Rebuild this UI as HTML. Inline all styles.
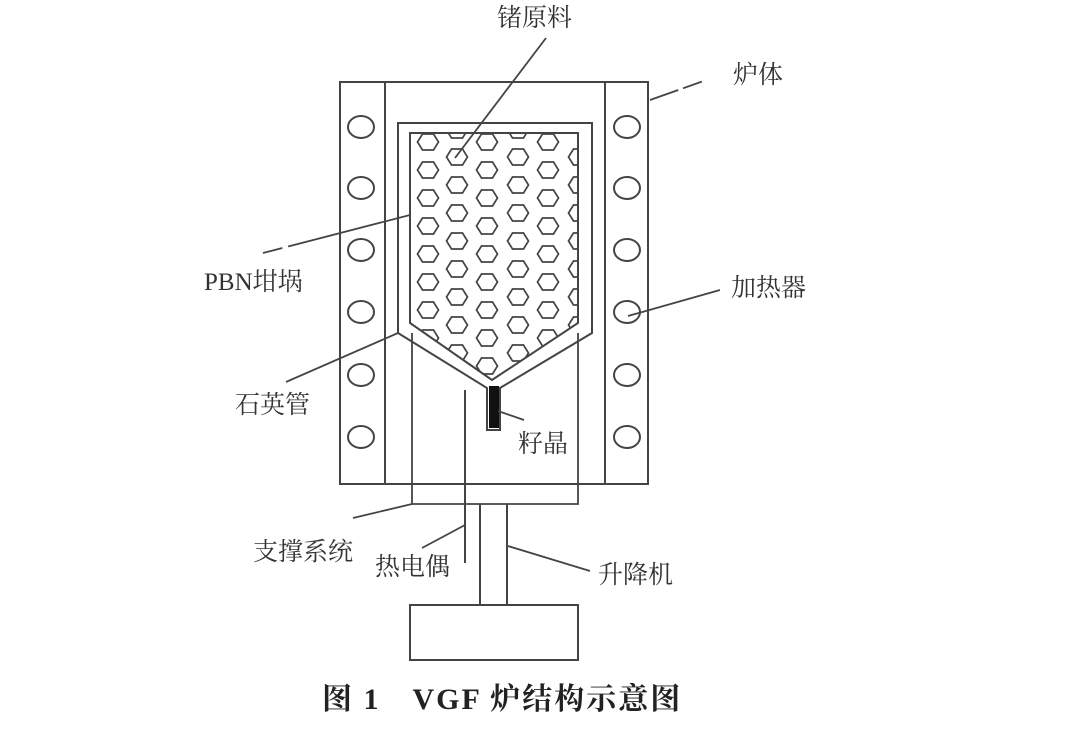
<!DOCTYPE html>
<html><head><meta charset="utf-8"><style>
html,body{margin:0;padding:0;background:#fff;}
text{font-family:"Liberation Serif","Noto Serif CJK SC","Noto Sans CJK SC",serif;fill:#333;}
</style></head><body>
<svg width="1080" height="745" viewBox="0 0 1080 745" xmlns="http://www.w3.org/2000/svg">
<defs>
<path id="h" d="M-10.5,0 L-5.5,-8 L5.5,-8 L10.5,0 L5.5,8 L-5.5,8 Z" fill="none" stroke="#444" stroke-width="1.7"/>
<clipPath id="cc"><polygon points="410,133 578,133 578,323 492,380 410,323"/></clipPath>
</defs>
<g fill="none" stroke="#444" stroke-width="2">
<rect x="340" y="82" width="308" height="402"/>
<line x1="385" y1="82" x2="385" y2="484"/>
<line x1="605" y1="82" x2="605" y2="484"/>
<polyline points="398,333 398,123 592,123 592,333 500,388 500,430 487,430 487,388 398,333"/>
<polygon points="410,133 578,133 578,323 492,380 410,323"/>
<polyline points="412,333 412,504 578,504 578,333" stroke-width="1.8"/>
<line x1="480" y1="504" x2="480" y2="605"/>
<line x1="507" y1="504" x2="507" y2="605"/>
<rect x="410" y="605" width="168" height="55"/>
<line x1="465" y1="390" x2="465" y2="563"/>
</g>
<rect x="489" y="386" width="10" height="42" fill="#111"/>
<g fill="none" stroke="#444" stroke-width="2">
<ellipse cx="361" cy="127" rx="13" ry="11"/><ellipse cx="361" cy="188" rx="13" ry="11"/><ellipse cx="361" cy="250" rx="13" ry="11"/><ellipse cx="361" cy="312" rx="13" ry="11"/><ellipse cx="361" cy="375" rx="13" ry="11"/><ellipse cx="361" cy="437" rx="13" ry="11"/>
<ellipse cx="627" cy="127" rx="13" ry="11"/><ellipse cx="627" cy="188" rx="13" ry="11"/><ellipse cx="627" cy="250" rx="13" ry="11"/><ellipse cx="627" cy="312" rx="13" ry="11"/><ellipse cx="627" cy="375" rx="13" ry="11"/><ellipse cx="627" cy="437" rx="13" ry="11"/>
</g>
<g clip-path="url(#cc)">
<use href="#h" x="428" y="142"/><use href="#h" x="428" y="170"/><use href="#h" x="428" y="198"/><use href="#h" x="428" y="226"/><use href="#h" x="428" y="254"/><use href="#h" x="428" y="282"/><use href="#h" x="428" y="310"/><use href="#h" x="428" y="338"/>
<use href="#h" x="487" y="142"/><use href="#h" x="487" y="170"/><use href="#h" x="487" y="198"/><use href="#h" x="487" y="226"/><use href="#h" x="487" y="254"/><use href="#h" x="487" y="282"/><use href="#h" x="487" y="310"/><use href="#h" x="487" y="338"/><use href="#h" x="487" y="366"/>
<use href="#h" x="548" y="142"/><use href="#h" x="548" y="170"/><use href="#h" x="548" y="198"/><use href="#h" x="548" y="226"/><use href="#h" x="548" y="254"/><use href="#h" x="548" y="282"/><use href="#h" x="548" y="310"/><use href="#h" x="548" y="338"/>
<use href="#h" x="457" y="130"/><use href="#h" x="457" y="157"/><use href="#h" x="457" y="185"/><use href="#h" x="457" y="213"/><use href="#h" x="457" y="241"/><use href="#h" x="457" y="269"/><use href="#h" x="457" y="297"/><use href="#h" x="457" y="325"/><use href="#h" x="457" y="353"/>
<use href="#h" x="518" y="130"/><use href="#h" x="518" y="157"/><use href="#h" x="518" y="185"/><use href="#h" x="518" y="213"/><use href="#h" x="518" y="241"/><use href="#h" x="518" y="269"/><use href="#h" x="518" y="297"/><use href="#h" x="518" y="325"/><use href="#h" x="518" y="353"/>
<use href="#h" x="579" y="157"/><use href="#h" x="579" y="185"/><use href="#h" x="579" y="213"/><use href="#h" x="579" y="241"/><use href="#h" x="579" y="269"/><use href="#h" x="579" y="297"/><use href="#h" x="579" y="325"/>
</g>
<g stroke="#444" stroke-width="1.8" fill="none">
<line x1="546" y1="38" x2="455" y2="158"/>
<line x1="650" y1="100" x2="712" y2="78" stroke-dasharray="30,5,20"/>
<line x1="263" y1="253" x2="410" y2="215" stroke-dasharray="20,6,200"/>
<line x1="628" y1="316" x2="720" y2="290"/>
<line x1="286" y1="382" x2="398" y2="333"/>
<line x1="498" y1="411" x2="524" y2="420"/>
<line x1="353" y1="518" x2="412" y2="504"/>
<line x1="422" y1="548" x2="465" y2="525"/>
<line x1="508" y1="546" x2="590" y2="571"/>
</g>
<g font-size="25">
<text x="497" y="26">锗原料</text>
<text x="733" y="83">炉体</text>
<text x="204" y="290">PBN坩埚</text>
<text x="731" y="296">加热器</text>
<text x="235" y="413">石英管</text>
<text x="518" y="452">籽晶</text>
<text x="253" y="560">支撑系统</text>
<text x="375" y="575">热电偶</text>
<text x="598" y="583">升降机</text>
</g>
<text x="322" y="709" font-size="30" font-weight="bold" letter-spacing="2" style="fill:#222">图 1　VGF 炉结构示意图</text>
</svg>
</body></html>
